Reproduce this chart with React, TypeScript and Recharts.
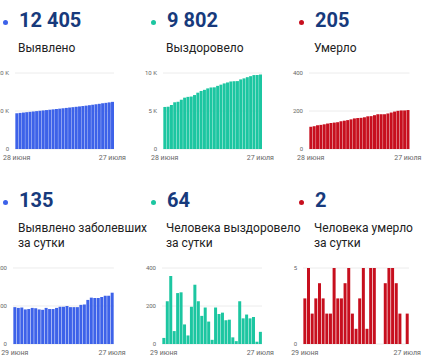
import { BarChart, Bar, XAxis, YAxis, CartesianGrid } from "recharts";

// Dates on the category axis
const topDates = [
  "28 июня", "29 июня", "30 июня", "1 июля", "2 июля", "3 июля", "4 июля", "5 июля",
  "6 июля", "7 июля", "8 июля", "9 июля", "10 июля", "11 июля", "12 июля", "13 июля",
  "14 июля", "15 июля", "16 июля", "17 июля", "18 июля", "19 июля", "20 июля", "21 июля",
  "22 июля", "23 июля", "24 июля", "25 июля", "26 июля", "27 июля",
];
const bottomDates = topDates.slice(1);

// Cumulative totals (top row)
const detectedTotal = [
  9403, 9500, 9595, 9691, 9782, 9874, 9969, 10063, 10154, 10244, 10339, 10431, 10523, 10618, 10716,
  10814, 10914, 11011, 11108, 11205, 11308, 11412, 11528, 11650, 11771, 11892, 12016, 12143, 12270, 12405,
];
const recoveredTotal = [
  5532, 5564, 5789, 6147, 6215, 6483, 6755, 6858, 6903, 7099, 7411, 7636, 7784, 7976, 8094,
  8116, 8308, 8466, 8631, 8756, 8884, 8919, 8934, 9159, 9294, 9449, 9584, 9726, 9738, 9802,
];
const deathsTotal = [
  117, 120, 125, 127, 130, 134, 137, 139, 141, 146, 149, 152, 156, 161, 163,
  164, 167, 172, 173, 178, 183, 183, 183, 187, 192, 197, 201, 203, 203, 205,
];

// Daily values (bottom row)
const detectedDaily = [
  97, 95, 96, 91, 92, 95, 94, 91, 90, 95, 92, 92, 95, 98, 98,
  100, 97, 97, 97, 103, 104, 116, 122, 121, 121, 124, 127, 127, 135,
];
const recoveredDaily = [
  32, 225, 358, 68, 268, 272, 103, 45, 196, 312, 225, 148, 192, 118, 22,
  192, 158, 165, 125, 128, 35, 15, 225, 135, 155, 135, 142, 12, 64,
];
const deathsDaily = [
  3, 5, 2, 3, 4, 3, 2, 2, 5, 3, 3, 4, 5, 2, 1,
  3, 5, 1, 5, 5, 0, 0, 4, 5, 5, 4, 2, 0, 2,
];

const BLUE = "#3d62e9";
const TEAL = "#1cc6a1";
const RED = "#c70f1e";
const NAVY = "#173a7c";
const FONT = "Roboto, 'Liberation Sans', sans-serif";

const kFormat = (v: number) => (v === 0 ? "0" : `${v / 1000} K`);
const plain = (v: number) => `${v}`;

interface MiniChartProps {
  dates: string[];
  values: number[];
  color: string;
  yTicks: number[];
  format: (v: number) => string;
  plotLeft: number;
  plotTop: number;
  plotWidth: number;
}

const Y_W = 40;
const PLOT_H = 76;

function MiniChart({ dates, values, color, yTicks, format, plotLeft, plotTop, plotWidth }: MiniChartProps) {
  const rows = dates.map((d, i) => ({ date: d, value: values[i] }));
  const width = Y_W + plotWidth + 20;
  const height = 5 + PLOT_H + 20;
  return (
    <div style={{ position: "absolute", left: plotLeft - Y_W, top: plotTop - 5, width, height }}>
      <BarChart
        width={width}
        height={height}
        data={rows}
        margin={{ top: 5, right: 20, bottom: 0, left: 0 }}
        barCategoryGap="10%"
      >
        <CartesianGrid horizontal vertical={false} stroke="#ececec" />
        <XAxis
          dataKey="date"
          height={20}
          axisLine={false}
          tickLine={false}
          tickSize={0}
          tickMargin={6}
          interval={dates.length - 2}
          tick={{ fontSize: 7, fill: "#666", fontFamily: FONT }}
        />
        <YAxis
          width={Y_W}
          domain={[yTicks[0], yTicks[yTicks.length - 1]]}
          ticks={yTicks}
          tickFormatter={format}
          axisLine={false}
          tickLine={false}
          tickSize={0}
          tickMargin={6}
          tick={{ fontSize: 6, fill: "#666", fontFamily: FONT }}
        />
        <Bar dataKey="value" fill={color} isAnimationActive={false} />
      </BarChart>
    </div>
  );
}

function Header({ left, top, color, value, label }: { left: number; top: number; color: string; value: string; label: string[] }) {
  return (
    <>
      <div
        style={{
          position: "absolute",
          left: left - 16.5,
          top: top + 11.5,
          width: 5,
          height: 5,
          borderRadius: "50%",
          background: color,
        }}
      />
      <div
        style={{
          position: "absolute",
          left,
          top,
          fontSize: 20,
          lineHeight: "24px",
          fontWeight: 700,
          fontFamily: FONT,
          color: NAVY,
          whiteSpace: "nowrap",
        }}
      >
        {value}
      </div>
      <div
        style={{
          position: "absolute",
          left: left - 1,
          top: top + 32.5,
          fontSize: 12,
          lineHeight: "15px",
          fontFamily: FONT,
          color: "#212121",
          whiteSpace: "nowrap",
        }}
      >
        {label.map((l) => (
          <div key={l}>{l}</div>
        ))}
      </div>
    </>
  );
}

export default function App() {
  return (
    <div
      style={{
        position: "absolute",
        left: 0,
        top: 0,
        width: 430,
        height: 363,
        overflow: "hidden",
        background: "#fff",
        fontFamily: FONT,
      }}
    >
      {/* top row: running totals */}
      <Header left={19} top={8} color={BLUE} value="12 405" label={["Выявлено"]} />
      <Header left={167} top={8} color={TEAL} value="9 802" label={["Выздоровело"]} />
      <Header left={315} top={8} color={RED} value="205" label={["Умерло"]} />

      <MiniChart dates={topDates} values={detectedTotal} color={BLUE} yTicks={[0, 10000, 20000]} format={kFormat} plotLeft={15} plotTop={73.3} plotWidth={99} />
      <MiniChart dates={topDates} values={recoveredTotal} color={TEAL} yTicks={[0, 5000, 10000]} format={kFormat} plotLeft={162.7} plotTop={73.3} plotWidth={99} />
      <MiniChart dates={topDates} values={deathsTotal} color={RED} yTicks={[0, 200, 400]} format={plain} plotLeft={309} plotTop={73.3} plotWidth={100.5} />

      {/* bottom row: per day */}
      <Header left={19} top={188} color={BLUE} value="135" label={["Выявлено заболевших", "за сутки"]} />
      <Header left={167} top={188} color={TEAL} value="64" label={["Человека выздоровело", "за сутки"]} />
      <Header left={315} top={188} color={RED} value="2" label={["Человека умерло", "за сутки"]} />

      <MiniChart dates={bottomDates} values={detectedDaily} color={BLUE} yTicks={[0, 100, 200]} format={plain} plotLeft={12.7} plotTop={267.5} plotWidth={100.8} />
      <MiniChart dates={bottomDates} values={recoveredDaily} color={TEAL} yTicks={[0, 200, 400]} format={plain} plotLeft={161.7} plotTop={267.5} plotWidth={100} />
      <MiniChart dates={bottomDates} values={deathsDaily} color={RED} yTicks={[0, 5]} format={plain} plotLeft={303.3} plotTop={267.5} plotWidth={106} />
    </div>
  );
}
